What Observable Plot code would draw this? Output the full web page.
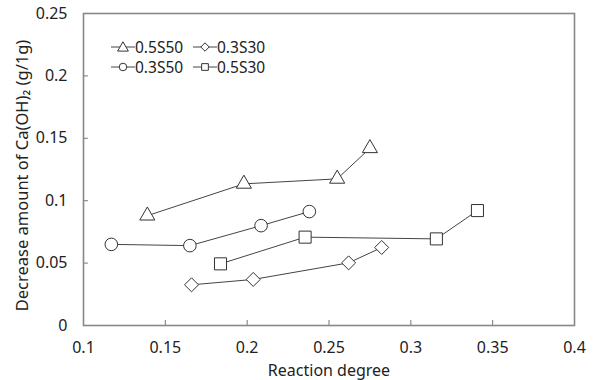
<!DOCTYPE html>
<html><head><meta charset="utf-8">
<script src="https://cdn.jsdelivr.net/npm/d3@7"></script>
<script src="https://cdn.jsdelivr.net/npm/@observablehq/plot@0.6"></script>
<style>
body{margin:0;background:#fff;font-family:"Noto Sans",sans-serif;}
#chart{position:relative;width:600px;height:380px;}
#legend{position:absolute;left:111px;top:37px;display:grid;grid-template-columns:82px 80px;grid-auto-rows:20px;font-size:15.5px;color:#222;}
#legend .item{display:flex;align-items:center;}
#legend svg{display:block;}
</style></head><body><div id="chart"><div id="legend"></div></div>
<script>
const seriesNames = ["0.5S50", "0.3S50", "0.5S30", "0.3S30"];
const symbols = ["triangle", "circle", "square", "diamond2"];
const x_05S50 = [0.139, 0.198, 0.255, 0.275];
const y_05S50 = [0.088, 0.1135, 0.1175, 0.142];
const x_03S50 = [0.117, 0.165, 0.2085, 0.238];
const y_03S50 = [0.065, 0.064, 0.080, 0.0913];
const x_05S30 = [0.1837, 0.2354, 0.3156, 0.3407];
const y_05S30 = [0.0494, 0.0708, 0.0694, 0.0921];
const x_03S30 = [0.166, 0.2037, 0.262, 0.2822];
const y_03S30 = [0.0326, 0.0369, 0.0502, 0.0625];
const xTicks = [0.1, 0.15, 0.2, 0.25, 0.3, 0.35, 0.4];
const yTicks = [0, 0.05, 0.1, 0.15, 0.2, 0.25];
const xLabel = "Reaction degree";
const yLabel = "Decrease amount of Ca(OH)\u2082 (g/1g)";
const legendOrder = ["0.5S50", "0.3S30", "0.3S50", "0.5S30"];

const xsAll = [x_05S50, x_03S50, x_05S30, x_03S30];
const ysAll = [y_05S50, y_03S50, y_05S30, y_03S30];
const data = seriesNames.flatMap((s, i) => xsAll[i].map((x, j) => ({series: s, x, y: ysAll[i][j]})));
const symOf = Object.fromEntries(seriesNames.map((s, i) => [s, symbols[i]]));
const rOf = {"triangle": 5.6, "circle": 6.3, "square": 6.8, "diamond2": 6.3};

const lineColor = "#444";
const font = '"Noto Sans", sans-serif';
const plot = Plot.plot({
  width: 600, height: 380,
  marginLeft: 83, marginRight: 26, marginTop: 13, marginBottom: 55,
  style: {fontFamily: font, fontSize: "16px", color: "#222", background: "#fff"},
  x: {domain: [0.1, 0.4]},
  y: {domain: [0, 0.25]},
  marks: [
    Plot.ruleX(xTicks.slice(1, -1), {x: d => d, y1: 0, y2: 0.004, stroke: "#777"}),
    Plot.ruleY(yTicks.slice(1, -1), {y: d => d, x1: 0.1, x2: 0.103, stroke: "#777"}),
    Plot.frame({stroke: "#888", strokeWidth: 1.6}),
    Plot.axisX(xTicks, {tickSize: 0, tickPadding: 16, tickFormat: d => String(d), label: null, fontSize: 16}),
    Plot.axisY(yTicks, {tickSize: 0, tickPadding: 16, tickFormat: d => String(d), label: null, fontSize: 16}),
    Plot.text([xLabel], {text: d => d, frameAnchor: "bottom", textAnchor: "middle", lineAnchor: "middle", dy: 45.5, fontSize: 16, fill: "#222"}),
    Plot.text([yLabel], {text: d => d, frameAnchor: "left", textAnchor: "middle", lineAnchor: "middle", dx: -61, dy: 6, rotate: -90, fontSize: 16.5, fill: "#222"}),
    Plot.line(data, {x: "x", y: "y", z: "series", stroke: lineColor, strokeWidth: 1}),
    ...seriesNames.map(s => Plot.dot(data.filter(d => d.series === s), {x: "x", y: "y", symbol: () => symOf[s], r: rOf[symOf[s]], fill: "#fff", stroke: "#333", strokeWidth: 1}))
  ]
});
document.getElementById("chart").prepend(plot);

const d3Sym = {"triangle": d3.symbolTriangle, "circle": d3.symbolCircle, "square": d3.symbolSquare, "diamond2": d3.symbolDiamond2};
const legend = d3.select("#legend");
legendOrder.forEach(name => {
  const item = legend.append("div").attr("class", "item");
  const svg = item.append("svg").attr("width", 24).attr("height", 20);
  svg.append("line").attr("x1", 0).attr("x2", 24).attr("y1", 10).attr("y2", 10).attr("stroke", lineColor);
  const t = symOf[name];
  svg.append("path").attr("d", d3.symbol(d3Sym[t], t === "triangle" ? 50 : 45)()).attr("transform", `translate(12,${t === "triangle" ? 11 : 10})`).attr("fill", "#fff").attr("stroke", "#333");
  item.append("span").text(name);
});
</script>
</body></html>
